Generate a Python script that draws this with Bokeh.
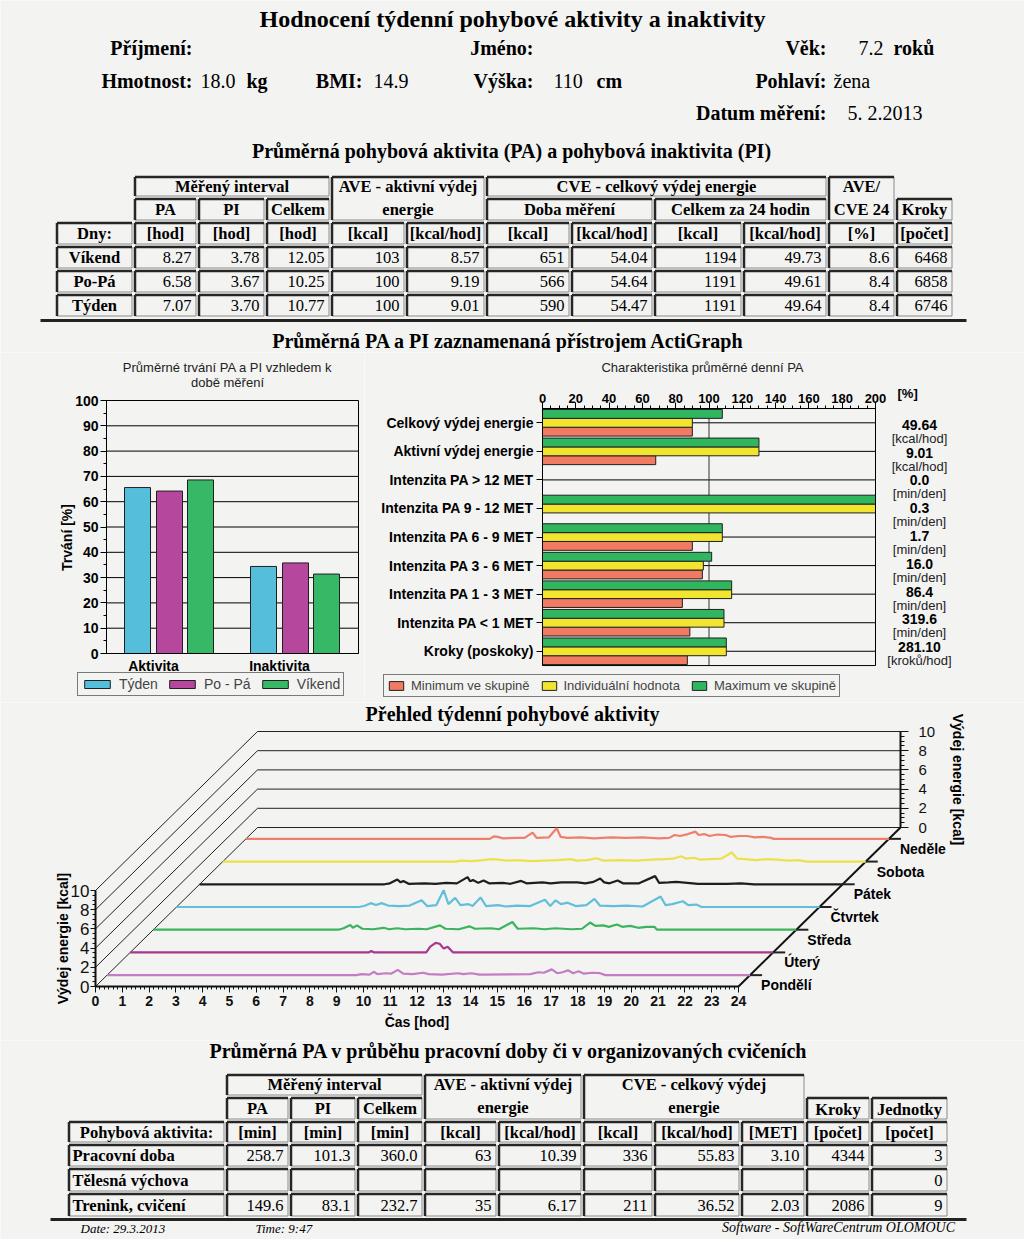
from math import pi
from bokeh.plotting import figure
from bokeh.layouts import column, row
from bokeh.models import (Range1d, LinearAxis, SingleIntervalTicker, FixedTicker,
                          Legend, LegendItem, ColumnDataSource)
from bokeh.core.properties import value
from bokeh.embed import file_html
from bokeh.resources import INLINE

BG = "#F3F3F2"
SERIF = "Liberation Serif"
SANS = "Liberation Sans"

# ---------------- DATA ----------------
report_title = "Hodnocení týdenní pohybové aktivity a inaktivity"
info_vek = "7.2"
info_hmotnost = "18.0"
info_bmi = "14.9"
info_vyska = "110"
info_pohlavi = "žena"
info_datum = "5. 2.2013"

t1_days = ["Víkend", "Po-Pá", "Týden"]
t1_pa_hod = [8.27, 6.58, 7.07]
t1_pi_hod = [3.78, 3.67, 3.70]
t1_celkem_hod = [12.05, 10.25, 10.77]
t1_ave_kcal = [103, 100, 100]
t1_ave_kcalh = [8.57, 9.19, 9.01]
t1_cve_kcal = [651, 566, 590]
t1_cve_kcalh = [54.04, 54.64, 54.47]
t1_cve24_kcal = [1194, 1191, 1191]
t1_cve24_kcalh = [49.73, 49.61, 49.64]
t1_ave_cve = [8.6, 8.4, 8.4]
t1_kroky = [6468, 6858, 6746]

bar_groups = ["Aktivita", "Inaktivita"]
bar_series = ["Týden", "Po - Pá", "Víkend"]
bar_tyden = [65.6, 34.4]
bar_popa = [64.2, 35.8]
bar_vikend = [68.6, 31.4]

pa_cats = ["Celkový výdej energie", "Aktivní výdej energie", "Intenzita PA > 12 MET",
           "Intenzita PA 9 - 12 MET", "Intenzita PA 6 - 9 MET", "Intenzita PA 3 - 6 MET",
           "Intenzita PA 1 - 3 MET", "Intenzita PA < 1 MET", "Kroky (poskoky)"]
pa_min = [90, 68, 0, 0, 90, 96, 84, 88.5, 87]
pa_ind = [90, 130, 0, 200, 108, 96.6, 113.6, 109, 110.4]
pa_max = [108, 130, 0, 200, 108, 101.6, 113.6, 109, 110.4]
pa_values = ["49.64", "9.01", "0.0", "0.3", "1.7", "16.0", "86.4", "319.6", "281.10"]
pa_units = ["[kcal/hod]", "[kcal/hod]", "[min/den]", "[min/den]", "[min/den]", "[min/den]",
            "[min/den]", "[min/den]", "[kroků/hod]"]
pa_legend = ["Minimum ve skupině", "Individuální hodnota", "Maximum ve skupině"]

days = ["Pondělí", "Úterý", "Středa", "Čtvrtek", "Pátek", "Sobota", "Neděle"]
po_t = [0, 9.3, 9.5, 9.8, 9.95, 10.1, 10.4, 10.6, 10.85, 11.05, 11.4, 11.8, 12.0, 12.5, 13.1, 13.3, 13.6, 13.9,
        15.8, 16.1, 16.3, 16.6, 16.8, 17.0, 17.2, 17.4, 17.6, 17.8, 18.1, 18.4, 18.6, 24]
po_v = [0, 0, 0.1, 0.05, 0.35, 0.1, 0.2, 0.15, 0.55, 0.15, 0.1, 0.25, 0.1, 0.05, 0.2, 0.1, 0.2, 0.05,
        0.1, 0.3, 0.25, 0.6, 0.2, 0.3, 0.5, 0.2, 0.4, 0.15, 0.25, 0.2, 0.0, 0]
ut_t = [0, 8.9, 9.0, 9.1, 11.05, 11.2, 11.4, 11.55, 11.7, 11.85, 12.05, 24]
ut_v = [0, 0, 0.15, 0, 0, 0.6, 1.0, 0.9, 0.4, 0.6, 0, 0]
st_t = [0, 6.9, 7.1, 7.35, 7.45, 7.6, 7.8, 8.2, 8.6, 8.8, 9.1, 9.4, 9.9, 10.2, 10.7, 10.9, 11.4, 11.8, 12.0,
        12.6, 12.9, 13.4, 13.6, 14.2, 14.6, 15.0, 15.6, 16.0, 16.3, 16.5, 16.8, 17.0, 17.3, 17.5, 17.8, 18.1,
        18.4, 18.7, 18.8, 24]
st_v = [0, 0, 0.15, 0.5, 0.2, 0.45, 0.1, 0.05, 0.2, 0.05, 0.15, 0.05, 0.1, 0.05, 0.45, 0.1, 0.05, 0.35, 0.1,
        0.15, 0.05, 0.8, 0.1, 0.15, 0.05, 0.15, 0.05, 0.1, 0.75, 0.4, 0.45, 0.3, 0.55, 0.3, 0.4, 0.2,
        0.3, 0.3, 0.0, 0]
ct_t = [0, 6.8, 7.0, 7.25, 7.45, 7.65, 7.9, 8.3, 8.7, 9.15, 9.35, 9.7, 9.97, 10.15, 10.4, 10.6, 10.9, 11.05,
        11.35, 11.55, 12.0, 12.3, 12.7, 13.2, 13.75, 13.95, 14.15, 14.35, 14.6, 14.9, 15.3, 15.6, 15.8, 16.3,
        16.8, 17.4, 18.07, 18.25, 18.5, 18.9, 19.1, 19.4, 19.6, 24]
ct_v = [0, 0, 0.1, 0.4, 0.2, 0.4, 0.15, 0.1, 0.15, 0.7, 0.1, 0.2, 1.75, 0.3, 0.95, 0.2, 0.3, 0.1,
        1.0, 0.1, 0.2, 0.05, 0.15, 0.1, 0.75, 0.1, 0.7, 0.3, 0.45, 0.1, 0.2, 0.85, 0.15, 0.1,
        0.15, 0.05, 1.1, 0.2, 0.3, 0.6, 0.2, 0.25, 0.0, 0]
pt_t = [0, 6.9, 7.1, 7.38, 7.5, 7.6, 7.8, 8.4, 8.8, 9.2, 9.6, 10.0, 10.1, 10.2, 10.4, 10.6, 10.8, 11.3, 11.6,
        12.0, 12.2, 12.8, 13.1, 13.5, 14.1, 14.4, 14.7, 14.95, 15.1, 15.3, 15.6, 15.8, 16.4, 17.0, 17.15,
        17.5, 17.8, 18.2, 18.6, 19.7, 20.2, 20.7, 24]
pt_v = [0, 0, 0.1, 0.5, 0.2, 0.35, 0.05, 0.1, 0.05, 0.15, 0.1, 0.75, 0.3, 0.45, 0.15, 0.4, 0.1, 0.15, 0.05,
        0.35, 0.1, 0.2, 0.1, 0.2, 0.2, 0.1, 0.25, 0.6, 0.2, 0.1, 0.4, 0.1, 0.1, 0.85, 0.15,
        0.2, 0.25, 0.15, 0.05, 0.05, 0.1, 0.0, 0]
so_t = [0, 8.7, 8.9, 9.3, 9.7, 10.0, 10.3, 10.6, 11.0, 11.5, 12.0, 12.5, 13.0, 13.2, 13.6, 13.95, 14.2, 14.8,
        15.4, 16.0, 16.5, 16.8, 17.1, 17.3, 17.6, 17.8, 18.2, 18.6, 19.0, 19.2, 19.5, 19.9, 20.3, 20.7,
        21.1, 21.5, 21.8, 24]
so_v = [0, 0, 0.1, 0.05, 0.15, 0.25, 0.2, 0.1, 0.15, 0.05, 0.1, 0.15, 0.25, 0.1, 0.15, 0.35, 0.1, 0.15,
        0.1, 0.2, 0.25, 0.3, 0.55, 0.3, 0.4, 0.2, 0.25, 0.3, 0.95, 0.3, 0.25, 0.15, 0.25, 0.2,
        0.1, 0.15, 0.0, 0]
ne_t = [0, 9.1, 9.25, 9.4, 9.6, 10.1, 10.4, 10.7, 10.85, 11.3, 11.6, 11.75, 12.0, 12.5, 13.0, 13.6, 14.2,
        14.8, 15.4, 15.8, 16.0, 16.2, 16.5, 16.78, 16.9, 17.1, 17.3, 17.6, 17.9, 18.1, 18.4, 18.7, 19.0,
        19.3, 19.6, 19.7, 24]
ne_v = [0, 0, 0.25, 0.2, 0.05, 0.1, 0.1, 0.65, 0.1, 0.15, 1.1, 0.2, 0.1, 0.15, 0.05, 0.15, 0.1,
        0.15, 0.05, 0.1, 0.4, 0.3, 0.5, 0.75, 0.4, 0.5, 0.3, 0.45, 0.4, 0.2, 0.3, 0.3, 0.15,
        0.2, 0.1, 0.0, 0]
day_series = [(po_t, po_v), (ut_t, ut_v), (st_t, st_v), (ct_t, ct_v), (pt_t, pt_v), (so_t, so_v), (ne_t, ne_v)]
wall_ticks = [0, 2, 4, 6, 8, 10]

t2_rows = ["Pracovní doba", "Tělesná výchova", "Trenink, cvičení"]
t2_pa_min = [258.7, None, 149.6]
t2_pi_min = [101.3, None, 83.1]
t2_celkem_min = [360.0, None, 232.7]
t2_ave_kcal = [63, None, 35]
t2_ave_kcalh = [10.39, None, 6.17]
t2_cve_kcal = [336, None, 211]
t2_cve_kcalh = [55.83, None, 36.52]
t2_met = [3.10, None, 2.03]
t2_kroky = [4344, None, 2086]
t2_jednotky = [3, 0, 9]

footer_date = "Date: 29.3.2013"
footer_time = "Time: 9:47"
footer_sw = "Software - SoftWareCentrum  OLOMOUC"

# ---------------- STYLE ----------------
C_TYDEN, C_POPA, C_VIKEND = "#55BEDA", "#B5479C", "#37B866"
C_RED, C_YEL, C_GRN = "#F07A62", "#F2E530", "#2FB65E"
DAY_COLORS = ["#C47CC5", "#A9378F", "#3CB45E", "#62BFDA", "#1E1E1E", "#EDE04D", "#EE7F6B"]


def fmt(v, d):
    if v is None:
        return ""
    return f"{v:.{d}f}" if d > 0 else f"{int(v)}"


def txt(p, xs, ys, texts, size, style="normal", align="left", font=SERIF, color="black", angle=0.0):
    src = ColumnDataSource(dict(x=list(xs), y=list(ys), t=list(texts)))
    p.text(x="x", y="y", text="t", source=src, text_font=value(font), text_font_size=size,
           text_font_style=style, text_align=align, text_baseline="middle", text_color=color, angle=angle)


def canvas(width, height, xr, yr):
    p = figure(width=width, height=height, x_range=Range1d(*xr), y_range=Range1d(*yr), title=None,
               x_axis_type=None, y_axis_type=None, min_border=0, outline_line_color=None,
               background_fill_color=BG, border_fill_color=BG, output_backend="svg", toolbar_location=None)
    if "frame_align" in p.properties():
        p.frame_align = False
    return p


def style_axis(ax, size, bold=True, color="black"):
    ax.major_label_text_font = SANS
    ax.major_label_text_font_size = size
    ax.major_label_text_font_style = "bold" if bold else "normal"
    ax.major_label_text_color = color
    ax.axis_line_color = color
    ax.major_tick_line_color = color
    ax.minor_tick_line_color = color
    ax.major_tick_in = 0
    ax.minor_tick_in = 0


def draw_cells(p, cells):
    g = 1.5
    k = dict(x0=[], y0=[], x1=[], y1=[])
    n = dict(x0=[], y0=[], x1=[], y1=[])
    for (x0, x1, y0, y1) in cells:
        a, b, c, d = x0 + g, x1 - g, y0 + g, y1 - g
        for (xa, ya, xb, yb) in [(a, c, b, c), (a, c, a, d)]:
            k["x0"].append(xa); k["y0"].append(ya); k["x1"].append(xb); k["y1"].append(yb)
        for (xa, ya, xb, yb) in [(a, d, b, d), (b, c, b, d)]:
            n["x0"].append(xa); n["y0"].append(ya); n["x1"].append(xb); n["y1"].append(yb)
    p.segment(x0="x0", y0="y0", x1="x1", y1="y1", source=ColumnDataSource(n), line_width=1, line_color="#8a8a8a")
    p.segment(x0="x0", y0="y0", x1="x1", y1="y1", source=ColumnDataSource(k), line_width=2.5, line_color="#262626")


def mid(c, a, b):
    return (c[a] + c[b]) / 2


TS = "16.5px"

# ================= A: header + table 1 (page pixels) =================
pA = canvas(1024, 352, (0, 1024), (352, 0))
txt(pA, [512], [18], [report_title], "24px", "bold", "center")
txt(pA, [192, 533, 826, 192, 362, 533, 826, 826], [47, 47, 47, 80, 80, 80, 80, 112],
    ["Příjmení:", "Jméno:", "Věk:", "Hmotnost:", "BMI:", "Výška:", "Pohlaví:", "Datum měření:"],
    "20px", "bold", "right")
txt(pA, [858, 200, 373, 553, 833, 847], [47, 80, 80, 80, 80, 112],
    [info_vek, info_hmotnost, info_bmi, info_vyska, info_pohlavi, info_datum], "20px", "normal", "left")
txt(pA, [893, 246, 596], [47, 80, 80], ["roků", "kg", "cm"], "20px", "bold", "left")
txt(pA, [511], [150], ["Průměrná pohybová aktivita (PA) a pohybová inaktivita (PI)"], "20px", "bold", "center")

c1 = [55, 133, 197, 265, 330, 405, 485, 570, 653, 742, 827, 895, 953]
r1 = [175, 197, 221, 245, 269, 293, 317]
cells1 = [(c1[1], c1[4], r1[0], r1[1]), (c1[6], c1[10], r1[0], r1[1]),
          (c1[4], c1[6], r1[0], r1[2]), (c1[10], c1[11], r1[0], r1[2])]
for a, b in [(1, 2), (2, 3), (3, 4), (6, 8), (8, 10), (11, 12)]:
    cells1.append((c1[a], c1[b], r1[1], r1[2]))
for r in range(2, 6):
    for k in range(12):
        cells1.append((c1[k], c1[k + 1], r1[r], r1[r + 1]))
draw_cells(pA, cells1)

hx, hy, ht = [], [], []
for (a, b, yy, t) in [(1, 4, 186, "Měřený interval"), (4, 6, 186, "AVE - aktivní výdej"), (4, 6, 209, "energie"),
                      (6, 10, 186, "CVE - celkový výdej energie"), (10, 11, 186, "AVE/"), (10, 11, 209, "CVE 24"),
                      (1, 2, 209, "PA"), (2, 3, 209, "PI"), (3, 4, 209, "Celkem"), (6, 8, 209, "Doba měření"),
                      (8, 10, 209, "Celkem za 24 hodin"), (11, 12, 209, "Kroky")]:
    hx.append(mid(c1, a, b)); hy.append(yy); ht.append(t)
units1 = ["Dny:", "[hod]", "[hod]", "[hod]", "[kcal]", "[kcal/hod]", "[kcal]", "[kcal/hod]", "[kcal]",
          "[kcal/hod]", "[%]", "[počet]"]
for k, u in enumerate(units1):
    hx.append(mid(c1, k, k + 1)); hy.append(233); ht.append(u)
for i, d in enumerate(t1_days):
    hx.append(mid(c1, 0, 1)); hy.append(257 + 24 * i); ht.append(d)
txt(pA, hx, hy, ht, TS, "bold", "center")

cols1 = [(t1_pa_hod, 2), (t1_pi_hod, 2), (t1_celkem_hod, 2), (t1_ave_kcal, 0), (t1_ave_kcalh, 2),
         (t1_cve_kcal, 0), (t1_cve_kcalh, 2), (t1_cve24_kcal, 0), (t1_cve24_kcalh, 2), (t1_ave_cve, 1),
         (t1_kroky, 0)]
vx, vy, vt = [], [], []
for k, (arr, d) in enumerate(cols1):
    for i, v in enumerate(arr):
        vx.append(c1[k + 2] - 6); vy.append(257 + 24 * i); vt.append(fmt(v, d))
txt(pA, vx, vy, vt, TS, "normal", "right")
pA.segment(x0=[40], y0=[320], x1=[966], y1=[320], line_width=3, line_color="#222222")
txt(pA, [508], [340], ["Průměrná PA a PI zaznamenaná přístrojem ActiGraph"], "20px", "bold", "center")

# ================= B1: bar chart (x in page px, y in %) =================
def b1y(sy):
    return (653 - sy) / 2.53


p1 = canvas(364, 350, (0, 364), (b1y(702), b1y(352)))
group_cx = [169, 295]
series_dx = [-32, 0, 31]
BOX1 = (106, 358)
p1.segment(x0=[BOX1[0]] * 9, x1=[BOX1[1]] * 9, y0=list(range(10, 100, 10)), y1=list(range(10, 100, 10)),
           line_color="black", line_width=1)
rs1 = []
for vals, dx, col in [(bar_tyden, series_dx[0], C_TYDEN), (bar_popa, series_dx[1], C_POPA),
                      (bar_vikend, series_dx[2], C_VIKEND)]:
    src = ColumnDataSource(dict(x=[c + dx for c in group_cx], top=vals, g=bar_groups))
    rs1.append(p1.vbar(x="x", top="top", bottom=0, width=26, source=src, fill_color=col,
                       line_color="#202020", line_width=1))
p1.quad(left=[BOX1[0]], right=[BOX1[1]], bottom=[0], top=[100], fill_color=None, line_color="black", line_width=1)
ay1 = LinearAxis(fixed_location=BOX1[0], bounds=(0, 100), ticker=SingleIntervalTicker(interval=10, num_minor_ticks=2))
style_axis(ay1, "14px")
ay1.major_tick_out = 6
ay1.minor_tick_out = 3
ay1.major_label_standoff = 2
p1.add_layout(ay1, "left")
lbl_x = [c - 16 for c in group_cx]
ax1 = LinearAxis(fixed_location=0, bounds=BOX1, ticker=FixedTicker(ticks=lbl_x),
                 major_label_overrides={lx: g for lx, g in zip(lbl_x, bar_groups)})
style_axis(ax1, "14px")
ax1.major_tick_out = 0
ax1.major_label_standoff = 4
p1.add_layout(ax1, "below")
txt(p1, [66], [b1y(537)], ["Trvání [%]"], "14px", "bold", "center", SANS, angle=pi / 2)
txt(p1, [227, 227], [b1y(367), b1y(382)], ["Průměrné trvání PA a PI vzhledem k", "době měření"],
    "13px", "normal", "center", SANS, "#222222")
leg1 = Legend(items=[LegendItem(label=s, renderers=[r]) for s, r in zip(bar_series, rs1)],
              orientation="horizontal", location=(77, 6), glyph_width=32, glyph_height=10,
              label_text_font=SANS, label_text_font_size="14px", label_height=14, label_standoff=6,
              spacing=8, padding=3, margin=0, border_line_color="black", border_line_width=1,
              background_fill_color=BG, background_fill_alpha=1)
p1.add_layout(leg1)

# ================= B2: horizontal bars (x in %, y category slots) =================
def b2x(sx):
    return (sx - 542) / 1.665


def b2y(sy):
    return 8 - (sy - 422.3) / 28.56


p2 = canvas(660, 350, (b2x(364), b2x(1024)), (b2y(702), b2y(352)))
pos = [len(pa_cats) - 1 - i for i in range(len(pa_cats))]
p2.segment(x0=[0] * len(pos), x1=[200] * len(pos), y0=pos, y1=pos, line_color="black", line_width=1)
p2.segment(x0=[100], x1=[100], y0=[-0.5], y1=[8.5], line_color="#333333", line_width=1)
rs2 = []
for vals, off, col in [(pa_min, -0.31, C_RED), (pa_ind, 0.0, C_YEL), (pa_max, 0.31, C_GRN)]:
    src = ColumnDataSource(dict(y=[q + off for q in pos], right=vals, cat=pa_cats))
    rs2.append(p2.hbar(y="y", left=0, right="right", height=0.31, source=src, fill_color=col,
                       line_color="#202020", line_width=1))
p2.quad(left=[0], right=[200], bottom=[-0.5], top=[8.5], fill_color=None, line_color="black", line_width=1)
ax2 = LinearAxis(fixed_location=8.5, bounds=(0, 200), ticker=SingleIntervalTicker(interval=20, num_minor_ticks=4))
style_axis(ax2, "13px")
ax2.major_tick_out = 6
ax2.minor_tick_out = 3
ax2.major_label_standoff = 0
p2.add_layout(ax2, "above")
ay2 = LinearAxis(fixed_location=0, bounds=(-0.5, 8.5), ticker=FixedTicker(ticks=pos),
                 major_label_overrides={q: c for q, c in zip(pos, pa_cats)})
style_axis(ay2, "14px")
ay2.major_tick_out = 6
ay2.major_label_standoff = 3
p2.add_layout(ay2, "left")
txt(p2, [b2x(897)], [b2y(393)], ["[%]"], "13px", "bold", "left", SANS)
txt(p2, [b2x(702)], [b2y(367)], ["Charakteristika průměrné denní PA"], "13px", "normal", "center", SANS, "#222222")
txt(p2, [b2x(919)] * len(pos), [b2y(424.3 + 27.8 * i) for i in range(len(pos))], pa_values,
    "14px", "bold", "center", SANS)
txt(p2, [b2x(919)] * len(pos), [b2y(437.8 + 27.8 * i) for i in range(len(pos))], pa_units,
    "13px", "normal", "center", SANS, "#222222")
leg2 = Legend(items=[LegendItem(label=s, renderers=[r]) for s, r in zip(pa_legend, rs2)],
              orientation="horizontal", location=(19, 5), glyph_width=18, glyph_height=11,
              label_text_font=SANS, label_text_font_size="13px", label_height=14, label_standoff=6,
              spacing=10, padding=3, margin=0, border_line_color="black", border_line_width=1,
              background_fill_color=BG, background_fill_alpha=1)
p2.add_layout(leg2)

# ================= C: weekly pseudo-3D overview (x hours, y kcal) =================
PXH = 643 / 24.0
PXK = 9.6
DXH = 162 / 7 / PXH
DYK = 159 / 7 / PXK


def c3x(sx):
    return (sx - 95) / PXH


def c3y(sy):
    return (986 - sy) / PXK


p3 = canvas(1024, 338, (c3x(0), c3x(1024)), (c3y(1040), c3y(702)))
p3.extra_y_ranges = {"back": Range1d(c3y(1040) - 7 * DYK, c3y(702) - 7 * DYK)}
XB = 24 + 7 * DXH
p3.segment(x0=[7 * DXH] * 6, y0=[7 * DYK + v for v in wall_ticks], x1=[XB] * 6,
           y1=[7 * DYK + v for v in wall_ticks], line_color="#222222", line_width=1)
p3.segment(x0=[0] * 6, y0=list(wall_ticks), x1=[7 * DXH] * 6, y1=[7 * DYK + v for v in wall_ticks],
           line_color="#222222", line_width=1)
p3.segment(x0=[24], y0=[0], x1=[XB], y1=[7 * DYK], line_color="#111111", line_width=2)
depth = [i + 0.5 for i in range(7)]
p3.segment(x0=[24 + d * DXH for d in depth], y0=[d * DYK for d in depth],
           x1=[24 + d * DXH + 12 / PXH for d in depth], y1=[d * DYK for d in depth],
           line_color="#222222", line_width=2)
for i in range(6, -1, -1):
    tt, vv = day_series[i]
    d = depth[i]
    p3.line(x=[t + d * DXH for t in tt], y=[v + d * DYK for v in vv], line_color=DAY_COLORS[i], line_width=2.2)
txt(p3, [24 + d * DXH + 11 / PXH for d in depth], [d * DYK - 10 / PXK for d in depth], days,
    "14px", "bold", "left", SANS)

al3 = LinearAxis(fixed_location=0, bounds=(0, 10), ticker=SingleIntervalTicker(interval=2, num_minor_ticks=4))
style_axis(al3, "17px", bold=False, color="#111111")
al3.major_label_standoff = 1
al3.major_tick_out = 5
al3.minor_tick_out = 3
al3.axis_line_width = 2
p3.add_layout(al3, "left")
ab3 = LinearAxis(fixed_location=0, bounds=(0, 24), ticker=SingleIntervalTicker(interval=1, num_minor_ticks=6))
style_axis(ab3, "14px", color="#111111")
ab3.major_label_standoff = 3
ab3.major_tick_out = 6
ab3.minor_tick_out = 3
ab3.axis_line_width = 2
p3.add_layout(ab3, "below")
ar3 = LinearAxis(y_range_name="back", fixed_location=XB, bounds=(0, 10),
                 ticker=SingleIntervalTicker(interval=2, num_minor_ticks=4))
style_axis(ar3, "15px", bold=False, color="#111111")
ar3.major_tick_out = 8
ar3.minor_tick_out = 4
ar3.major_label_standoff = 10
ar3.axis_line_width = 2
p3.add_layout(ar3, "right")
txt(p3, [c3x(62)], [c3y(938)], ["Výdej energie [kcal]"], "14px", "bold", "center", SANS, angle=pi / 2)
txt(p3, [c3x(957)], [c3y(779)], ["Výdej energie [kcal]"], "14px", "bold", "center", SANS, angle=-pi / 2)
txt(p3, [12], [c3y(1021)], ["Čas [hod]"], "14px", "bold", "center", SANS)
txt(p3, [c3x(512)], [c3y(713)], ["Přehled týdenní pohybové aktivity"], "20px", "bold", "center", SERIF)

# ================= D: table 2 + footer (page pixels) =================
pD = canvas(1024, 199, (0, 1024), (1239, 1040))
txt(pD, [508], [1050], ["Průměrná PA v průběhu pracovní doby či v organizovaných cvičeních"], "20px", "bold", "center")
c2 = [67, 225, 289, 356, 423, 497, 582, 653, 740, 805, 870, 948]
r2 = [1073, 1096, 1120, 1143, 1167, 1192, 1217]
cells2 = [(c2[1], c2[4], r2[0], r2[1]), (c2[4], c2[6], r2[0], r2[2]), (c2[6], c2[9], r2[0], r2[2])]
for a, b in [(1, 2), (2, 3), (3, 4), (9, 10), (10, 11)]:
    cells2.append((c2[a], c2[b], r2[1], r2[2]))
for r in range(2, 6):
    for k in range(11):
        cells2.append((c2[k], c2[k + 1], r2[r], r2[r + 1]))
draw_cells(pD, cells2)
hx, hy, ht = [], [], []
for (a, b, yy, t) in [(1, 4, 1084, "Měřený interval"), (4, 6, 1084, "AVE - aktivní výdej"), (4, 6, 1107, "energie"),
                      (6, 9, 1084, "CVE - celkový výdej"), (6, 9, 1107, "energie"),
                      (1, 2, 1108, "PA"), (2, 3, 1108, "PI"), (3, 4, 1108, "Celkem"),
                      (9, 10, 1109, "Kroky"), (10, 11, 1109, "Jednotky")]:
    hx.append(mid(c2, a, b)); hy.append(yy); ht.append(t)
units2 = ["Pohybová aktivita:", "[min]", "[min]", "[min]", "[kcal]", "[kcal/hod]", "[kcal]", "[kcal/hod]",
          "[MET]", "[počet]", "[počet]"]
for k, u in enumerate(units2):
    hx.append(mid(c2, k, k + 1)); hy.append(1132); ht.append(u)
txt(pD, hx, hy, ht, TS, "bold", "center")
txt(pD, [c2[0] + 5] * 3, [1155 + 25 * i for i in range(3)], t2_rows, TS, "bold", "left")
cols2 = [(t2_pa_min, 1), (t2_pi_min, 1), (t2_celkem_min, 1), (t2_ave_kcal, 0), (t2_ave_kcalh, 2),
         (t2_cve_kcal, 0), (t2_cve_kcalh, 2), (t2_met, 2), (t2_kroky, 0), (t2_jednotky, 0)]
vx, vy, vt = [], [], []
for k, (arr, d) in enumerate(cols2):
    for i, v in enumerate(arr):
        if v is None:
            continue
        vx.append(c2[k + 2] - 6); vy.append(1155 + 25 * i); vt.append(fmt(v, d))
txt(pD, vx, vy, vt, TS, "normal", "right")
pD.segment(x0=[50], y0=[1219], x1=[966], y1=[1219], line_width=3, line_color="#222222")
txt(pD, [80, 255], [1228, 1228], [footer_date, footer_time], "13px", "italic", "left")
txt(pD, [958], [1227], [footer_sw], "14px", "italic", "right")

layout = column(pA, row(p1, p2), p3, pD)
open("out.html", "w").write(file_html(layout, INLINE))
